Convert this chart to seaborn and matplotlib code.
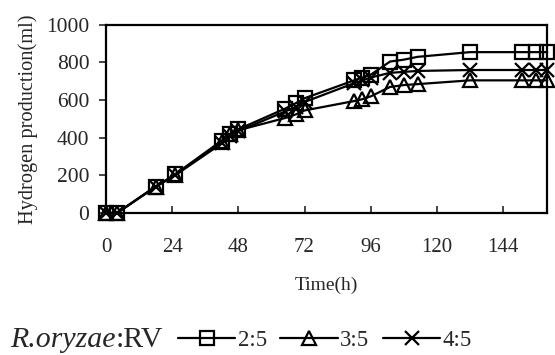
import numpy as np
import pandas as pd
import matplotlib
matplotlib.use("Agg")
import matplotlib.pyplot as plt
import seaborn as sns

time_h = [0, 4, 18, 25, 42, 45, 48, 65, 69, 72, 90, 93, 96, 103, 108, 113, 132, 151, 156, 160]
ratio_2_5 = [0, 0, 140, 205, 385, 420, 445, 555, 585, 610, 705, 720, 735, 805, 815, 830, 855, 855, 855, 855]
ratio_3_5 = [0, 0, 140, 200, 380, 420, 440, 505, 525, 545, 595, 605, 620, 670, 680, 685, 705, 705, 705, 705]
ratio_4_5 = [0, 0, 140, 200, 370, 410, 435, 540, 565, 590, 690, 705, 720, 745, 750, 755, 760, 760, 760, 760]
series_names = ["2:5", "3:5", "4:5"]
series_markers = ["s", "^", "x"]
x_ticks = [0, 24, 48, 72, 96, 120, 144]
y_ticks = [0, 200, 400, 600, 800, 1000]

sns.set_style("white")
plt.rcParams["font.family"] = ["Liberation Serif", "DejaVu Serif", "DejaVu Sans"]

fig = plt.figure(figsize=(5.55, 3.55), dpi=100)
ax = fig.add_axes([0.191, 0.400, 0.795, 0.530])

for name, vals, mk in zip(series_names, [ratio_2_5, ratio_3_5, ratio_4_5], series_markers):
    df = pd.DataFrame({"time": time_h, "h2": vals})
    sns.lineplot(data=df, x="time", y="h2", color="black", marker=mk,
                 markersize=10, markerfacecolor="none", markeredgecolor="black",
                 markeredgewidth=1.6, linewidth=1.6, ax=ax, clip_on=False, label=name)

handles, labels = ax.get_legend_handles_labels()
if ax.get_legend() is not None:
    ax.get_legend().remove()

ax.set_xlim(0, 160)
ax.set_ylim(0, 1000)
ax.set_xticks(x_ticks)
ax.set_yticks(y_ticks)
ax.tick_params(axis="x", direction="in", length=5, width=1.2, labelsize=15, pad=18, bottom=True)
ax.tick_params(axis="y", direction="out", length=5, width=1.2, labelsize=15.5, pad=7, left=True)
for s in ax.spines.values():
    s.set_linewidth(1.6)
    s.set_color("black")
ax.set_xlabel("Time(h)", fontsize=14, labelpad=14)
ax.set_ylabel("Hydrogen production(ml)", fontsize=14.7, labelpad=6)

leg_y = 1 - 340 / 355
t1 = fig.text(0.019, leg_y, "R.oryzae", fontsize=21.5, style="italic", va="center")
ax.annotate(":RV", xy=(1, 0), xycoords=t1, va="bottom", fontsize=21.5)

fig.legend(handles, labels, loc="center left", bbox_to_anchor=(178 / 555, leg_y),
           ncol=3, frameon=False, fontsize=16.5, handlelength=2.5, handletextpad=0.1,
           columnspacing=0.6, borderaxespad=0, borderpad=0)

fig.savefig("out.png", dpi=100)
